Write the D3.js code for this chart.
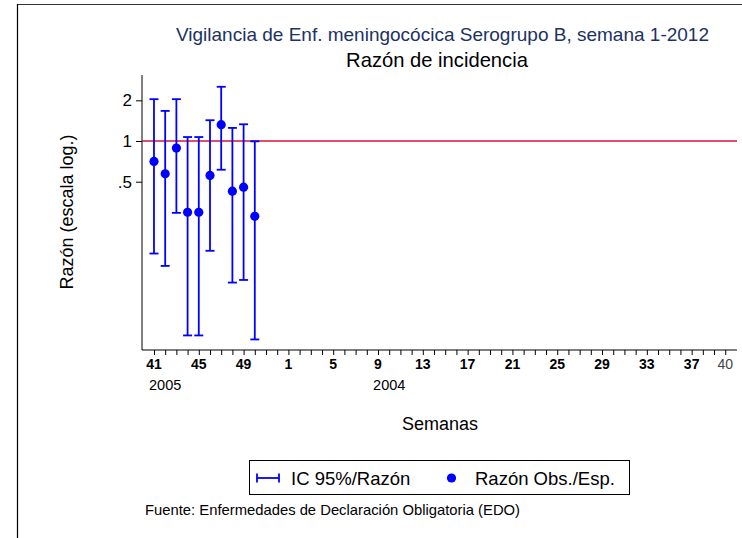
<!DOCTYPE html>
<html>
<head>
<meta charset="utf-8">
<script src="https://cdn.jsdelivr.net/npm/d3@7"></script>
<style>
  html, body { margin: 0; padding: 0; background: #fff; }
  svg { display: block; font-family: "Liberation Sans", Arial, sans-serif; }
</style>
</head>
<body>
<svg id="chart" width="742" height="538"></svg>
<script>
// Axis positions (week sequence from week 41 of 2005 through week 40)
const weeks = [41,42,43,44,45,46,47,48,49,50,51,52,1,2,3,4,5,6,7,8,9,10,11,12,13,14,15,16,17,18,19,20,21,22,23,24,25,26,27,28,29,30,31,32,33,34,35,36,37,38,39,40];
const tickLabels = ["41","45","49","1","5","9","13","17","21","25","29","33","37"];
const lastLabel = "40";
const yearLabels = [{text: "2005", idx: 1}, {text: "2004", idx: 21}];
const yTicks = [2, 1, 0.5];
const yTickLabels = ["2", "1", ".5"];

// Series: observed/expected ratio and 95% CI
const dataWeeks = [41, 42, 43, 44, 45, 46, 47, 48, 49, 50];
const ratio =     [0.706, 0.572, 0.887, 0.297, 0.297, 0.556, 1.32, 0.425, 0.455, 0.277];
const ciLow =     [0.147, 0.119, 0.294, 0.0364, 0.0364, 0.154, 0.613, 0.0896, 0.0937, 0.034];
const ciHigh =    [2.04, 1.67, 2.04, 1.07, 1.07, 1.425, 2.52, 1.25, 1.33, 0.995];

const svg = d3.select("#chart");

// frame
svg.append("line").attr("x1", 17).attr("x2", 742).attr("y1", 4.5).attr("y2", 4.5)
  .attr("stroke", "#333").attr("stroke-width", 1);
svg.append("line").attr("x1", 17.5).attr("x2", 17.5).attr("y1", 4).attr("y2", 538)
  .attr("stroke", "#000").attr("stroke-width", 1.2);

const pLeft = 142, pRight = 737, pTop = 75, pBottom = 350;

const x = d3.scaleLinear().domain([-1.07, 52.05]).range([pLeft, pRight]);
const y = d3.scaleLog().domain([0.0284, 3.08]).range([pBottom, pTop]);

// title
svg.append("text").attr("x", 442.5).attr("y", 41).attr("text-anchor", "middle")
  .attr("font-size", 19).attr("fill", "#1c3264")
  .text("Vigilancia de Enf. meningocócica Serogrupo B, semana 1-2012");
svg.append("text").attr("x", 437).attr("y", 67).attr("text-anchor", "middle")
  .attr("font-size", 20.2).attr("fill", "#000")
  .text("Razón de incidencia");

// y axis
const yAxis = d3.axisLeft(y).tickValues(yTicks).tickFormat((d, i) => yTickLabels[i]).tickSize(6).tickPadding(4);
const gy = svg.append("g").attr("transform", `translate(${pLeft},0)`).call(yAxis);
gy.select(".domain").attr("d", `M0,${pTop}V${pBottom}`).attr("stroke", "#000");
gy.selectAll(".tick text").attr("font-size", 17).attr("fill", "#000").attr("font-family", "Liberation Sans, Arial, sans-serif");
gy.selectAll(".tick line").attr("stroke", "#000");

// x axis: minor ticks every week, labeled every 4
const xAxis = d3.axisBottom(x).tickValues(d3.range(weeks.length)).tickSize(5).tickFormat("");
const gx = svg.append("g").attr("transform", `translate(0,${pBottom})`).call(xAxis);
gx.select(".domain").attr("d", `M${pLeft},0H${pRight}`).attr("stroke", "#000");
gx.selectAll(".tick line").attr("stroke", "#000");

const labelIdx = tickLabels.map(t => weeks.indexOf(+t));
svg.append("g").selectAll("text").data(tickLabels).join("text")
  .attr("x", (d, i) => x(labelIdx[i]))
  .attr("y", pBottom + 19)
  .attr("text-anchor", "middle").attr("font-size", 14).attr("font-weight", "bold")
  .attr("fill", "#000").text(d => d);
svg.append("text").attr("x", x(weeks.length - 1)).attr("y", pBottom + 19)
  .attr("text-anchor", "middle").attr("font-size", 14).attr("fill", "#444").text(lastLabel);

svg.append("g").selectAll("text").data(yearLabels).join("text")
  .attr("x", d => x(d.idx)).attr("y", pBottom + 40)
  .attr("text-anchor", "middle").attr("font-size", 14.5).attr("fill", "#000").text(d => d.text);

// axis titles
svg.append("text").attr("transform", `translate(73,212) rotate(-90)`).attr("text-anchor", "middle")
  .attr("font-size", 18).attr("fill", "#000").text("Razón (escala log.)");
svg.append("text").attr("x", 440).attr("y", 430).attr("text-anchor", "middle")
  .attr("font-size", 18).attr("fill", "#000").text("Semanas");

// reference line at 1
svg.append("line").attr("x1", pLeft).attr("x2", pRight).attr("y1", y(1)).attr("y2", y(1))
  .attr("stroke", "#d4143c").attr("stroke-width", 1.6);

// error bars
const blue = "#0000ff";
const pts = dataWeeks.map((w, i) => ({w, idx: weeks.indexOf(w), r: ratio[i], lo: ciLow[i], hi: ciHigh[i]}));
const eb = svg.append("g").attr("stroke", blue).attr("stroke-width", 1.8).attr("fill", "none");
eb.selectAll("line.v").data(pts).join("line").attr("class", "v")
  .attr("x1", d => x(d.idx)).attr("x2", d => x(d.idx)).attr("y1", d => y(d.lo)).attr("y2", d => y(d.hi));
eb.selectAll("line.t").data(pts).join("line").attr("class", "t")
  .attr("x1", d => x(d.idx) - 4.5).attr("x2", d => x(d.idx) + 4.5).attr("y1", d => y(d.hi)).attr("y2", d => y(d.hi));
eb.selectAll("line.b").data(pts).join("line").attr("class", "b")
  .attr("x1", d => x(d.idx) - 4.5).attr("x2", d => x(d.idx) + 4.5).attr("y1", d => y(d.lo)).attr("y2", d => y(d.lo));

svg.append("g").selectAll("circle").data(pts).join("circle")
  .attr("cx", d => x(d.idx)).attr("cy", d => y(d.r)).attr("r", 4.6).attr("fill", blue);

// legend
const lg = svg.append("g");
lg.append("rect").attr("x", 249.5).attr("y", 460.5).attr("width", 380).attr("height", 34)
  .attr("fill", "#fff").attr("stroke", "#000").attr("stroke-width", 1);
lg.append("line").attr("x1", 257).attr("x2", 279).attr("y1", 478).attr("y2", 478).attr("stroke", blue).attr("stroke-width", 1.8);
lg.append("line").attr("x1", 257).attr("x2", 257).attr("y1", 473.5).attr("y2", 482.5).attr("stroke", blue).attr("stroke-width", 1.8);
lg.append("line").attr("x1", 279).attr("x2", 279).attr("y1", 473.5).attr("y2", 482.5).attr("stroke", blue).attr("stroke-width", 1.8);
lg.append("text").attr("x", 291).attr("y", 484.5).attr("font-size", 18.5).attr("fill", "#000").text("IC 95%/Razón");
lg.append("circle").attr("cx", 451.5).attr("cy", 478).attr("r", 4.6).attr("fill", blue);
lg.append("text").attr("x", 475).attr("y", 484.5).attr("font-size", 18.5).attr("fill", "#000").text("Razón Obs./Esp.");

// footer
svg.append("text").attr("x", 145).attr("y", 515).attr("font-size", 14.8).attr("fill", "#000")
  .text("Fuente: Enfermedades de Declaración Obligatoria (EDO)");
</script>
</body>
</html>
